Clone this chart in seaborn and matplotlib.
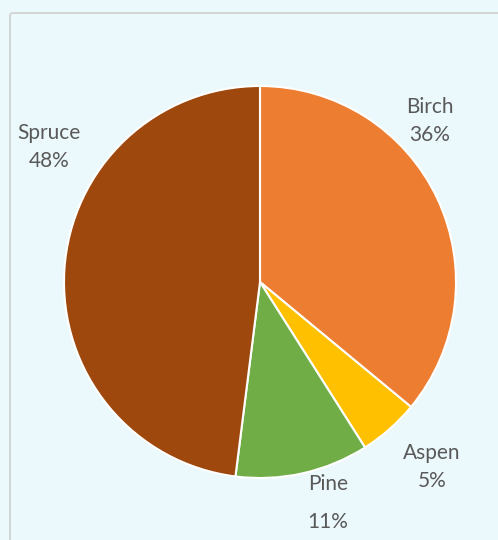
''' Tree species share - pie chart '''
import matplotlib.pyplot as plt
import seaborn as sns
from matplotlib.patches import FancyBboxPatch

species = ["Birch", "Aspen", "Pine", "Spruce"]
shares = [36, 5, 11, 48]

# label placement (in pie radius units) and line spacing, per species
label_pos = [(0.867, 0.821), (0.878, -0.944), (0.347, -1.128), (-1.077, 0.689)]
label_spacing = [1.5, 1.5, 2.1, 1.5]

bg = "#ECF9FC"
colors = sns.color_palette(["#ED7D31", "#FFC000", "#70AD47", "#9E480E"])

sns.set_theme(style="white")
plt.rcParams["font.family"] = ["Lato", "DejaVu Sans"]

fig = plt.figure(figsize=(4.98, 5.40), dpi=100, facecolor=bg)

# light grey frame, runs off the right and bottom edges
frame = FancyBboxPatch((10 / 498, -0.05), 1.0, (540 - 13) / 540 + 0.05,
                       boxstyle="round,pad=0,rounding_size=0.005",
                       transform=fig.transFigure, facecolor=bg,
                       edgecolor="#D4D4D4", linewidth=1.4, zorder=-5)
fig.patches.append(frame)

ax = fig.add_axes([0, 0, 1, 1])
ax.set_facecolor("none")
ax.set_zorder(2)

ax.pie(shares, colors=colors, startangle=90, counterclock=False,
       wedgeprops=dict(edgecolor="white", linewidth=1.5))
# centre of pie at pixel (260, 282), radius 196 px
r = 196
ax.set_xlim(-260 / r, (498 - 260) / r)
ax.set_ylim((282 - 540) / r, 282 / r)
ax.set_aspect("auto")
ax.axis("off")

for name, val, (x, y), ls in zip(species, shares, label_pos, label_spacing):
    ax.text(x, y, f"{name}\n{val}%", ha="center", va="center",
            fontsize=15, color="#595959", linespacing=ls)

fig.savefig("out.png", dpi=100, facecolor=bg)
